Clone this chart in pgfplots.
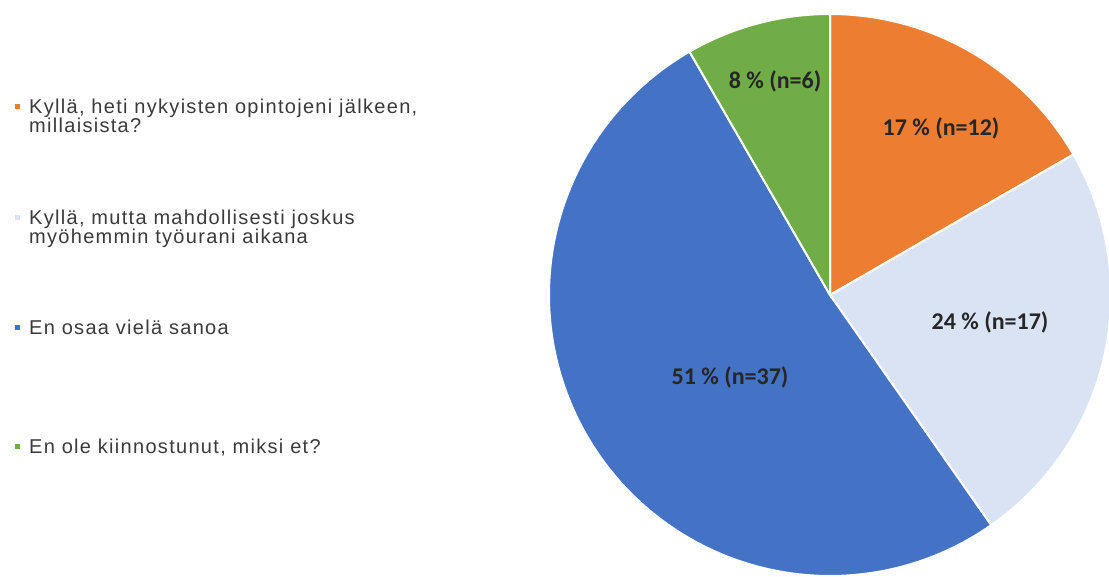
\documentclass[border=0pt]{standalone}
\usepackage{pgfplots}
\pgfplotsset{compat=1.18}
\usepackage{fontspec}
\setmainfont{Liberation Sans}
\newfontfamily\legfont[LetterSpace=6.5]{Liberation Sans}
\newfontfamily\labfont{Carlito}
\definecolor{cOrange}{HTML}{ED7D31}
\definecolor{cLight}{HTML}{DAE3F3}
\definecolor{cBlue}{HTML}{4472C4}
\definecolor{cGreen}{HTML}{70AD47}
\definecolor{legtext}{HTML}{3A3A3A}
\definecolor{labtext}{HTML}{262626}
% counts: 12, 17, 37, 6 (total 72); slices clockwise from 90 degrees
% orange: 90 -> 30, light: 30 -> -55, blue: -55 -> -240, green: -240 -> -270
\begin{document}
\begin{tikzpicture}[x=1pt,y=1pt]
\path[use as bounding box] (0,0) rectangle (1109,576);
\begin{axis}[
  at={(830pt,281pt)}, anchor=center,
  width=562pt, height=562pt, scale only axis,
  xmin=-281, xmax=281, ymin=-281, ymax=281,
  hide axis, clip=false]
\addplot[fill=cOrange, draw=white, line width=2pt, domain=30:90, samples=60, variable=\t]
  ({281*cos(t)},{281*sin(t)}) -- (axis cs:0,0) -- cycle;
\addplot[fill=cLight, draw=white, line width=2pt, domain=-55:30, samples=80, variable=\t]
  ({281*cos(t)},{281*sin(t)}) -- (axis cs:0,0) -- cycle;
\addplot[fill=cBlue, draw=white, line width=2pt, domain=-240:-55, samples=160, variable=\t]
  ({281*cos(t)},{281*sin(t)}) -- (axis cs:0,0) -- cycle;
\addplot[fill=cGreen, draw=white, line width=2pt, domain=-270:-240, samples=40, variable=\t]
  ({281*cos(t)},{281*sin(t)}) -- (axis cs:0,0) -- cycle;
\node[font=\labfont\bfseries\fontsize{24}{28}\selectfont, text=labtext] at (axis cs:-55,214) {8 \% (n=6)};
\node[font=\labfont\bfseries\fontsize{24}{28}\selectfont, text=labtext] at (axis cs:111,167) {17 \% (n=12)};
\node[font=\labfont\bfseries\fontsize{24}{28}\selectfont, text=labtext] at (axis cs:-100,-82) {51 \% (n=37)};
\node[font=\labfont\bfseries\fontsize{24}{28}\selectfont, text=labtext] at (axis cs:160,-27) {24 \% (n=17)};
\end{axis}
% legend
\fill[cOrange] (15,466.5) rectangle (20,471.5);
\fill[cLight] (15,355.5) rectangle (20,360.5);
\fill[cBlue] (15,245.5) rectangle (20,250.5);
\fill[cGreen] (15,126.5) rectangle (20,131.5);
\begin{scope}[every node/.style={anchor=base west, inner sep=0pt, text=legtext, font=\legfont\fontsize{20}{23}\selectfont}]
\node at (29,462) {Kyllä, heti nykyisten opintojeni jälkeen,};
\node at (29,443) {millaisista?};
\node at (29,351) {Kyllä, mutta mahdollisesti joskus};
\node at (29,332) {myöhemmin työurani aikana};
\node at (29,241) {En osaa vielä sanoa};
\node at (29,122) {En ole kiinnostunut, miksi et?};
\end{scope}
\end{tikzpicture}
\end{document}
